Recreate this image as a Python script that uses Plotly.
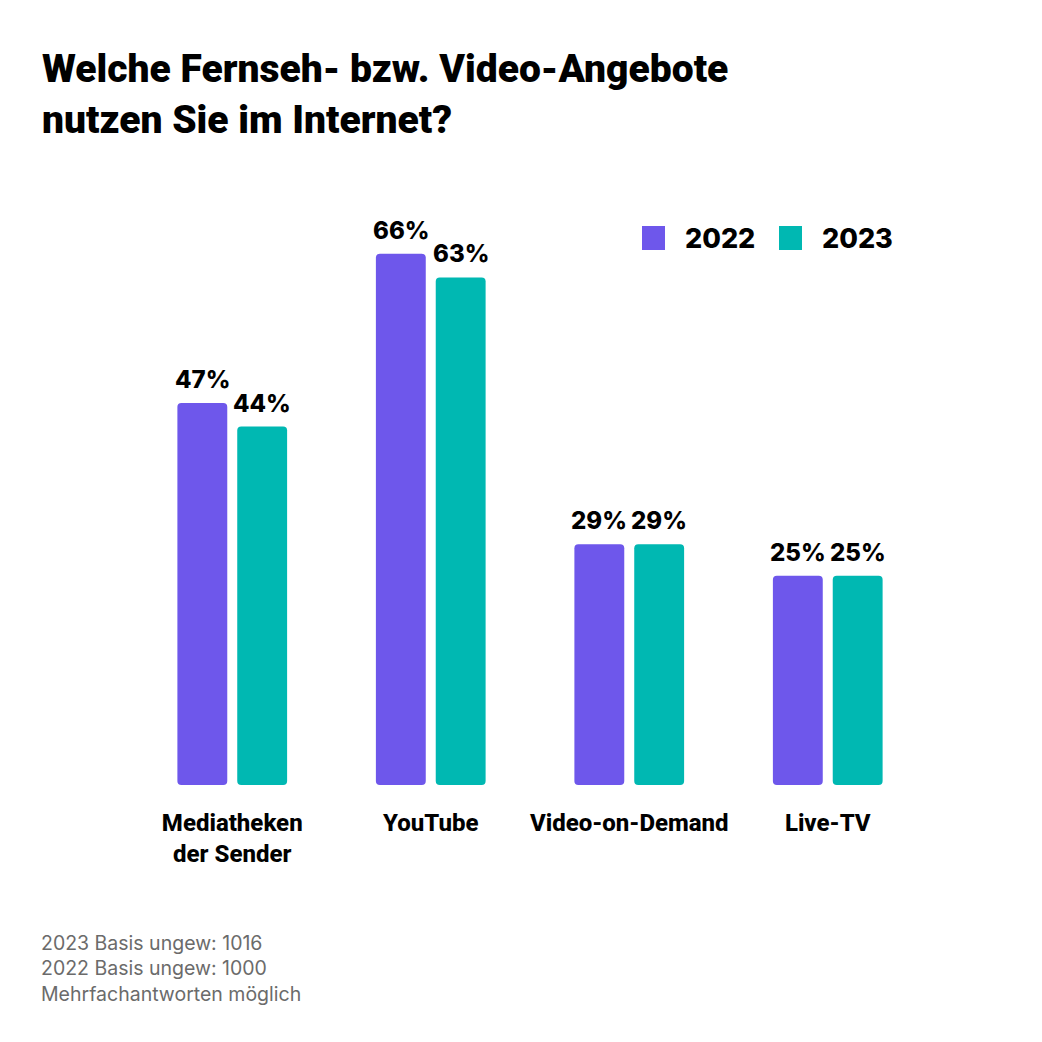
import plotly.graph_objects as go

categories = ["Mediatheken<br>der Sender", "YouTube", "Video-on-Demand", "Live-TV"]
values_2022 = [47, 66, 29, 25]
values_2023 = [44, 63, 29, 25]
series_names = ["2022", "2023"]
footnotes = ["2023 Basis ungew: 1016", "2022 Basis ungew: 1000", "Mehrfachantworten möglich"]
title_text = "Welche Fernseh- bzw. Video-Angebote<br>nutzen Sie im Internet?"

COL_2022 = "#6E57EB"
COL_2023 = "#00B8B2"
AXIS_FLOOR = -1.65
VALUE_FONT = "Inter, Roboto, sans-serif"
LABEL_FONT = "Roboto, Liberation Sans, sans-serif"

fig = go.Figure()
series = [(series_names[0], values_2022, COL_2022, -30), (series_names[1], values_2023, COL_2023, 30)]
for name, vals, col, shift in series:
    fig.add_trace(go.Bar(
        x=categories, y=[v - AXIS_FLOOR for v in vals], base=AXIS_FLOOR,
        name=name, marker=dict(color=col, line=dict(width=0)),
        showlegend=False, hovertemplate="%{x}: " + "%{customdata}%<extra>" + name + "</extra>",
        customdata=vals,
    ))
    for cat, v in zip(categories, vals):
        fig.add_annotation(x=cat, y=v, xshift=shift, yshift=7, yanchor="bottom",
                           text=f"{v}%", showarrow=False,
                           font=dict(family=VALUE_FONT, size=24, color="#000000", weight=800))

fig.update_layout(
    width=1042, height=1042,
    paper_bgcolor="white", plot_bgcolor="white",
    margin=dict(l=133, r=115, t=140, b=257),
    barmode="group", bargap=0.397, bargroupgap=1/6, barcornerradius=4,
    title=dict(text=title_text, x=42/1042, xanchor="left", xref="container",
               y=1 - 82/1042, yanchor="top", yref="container",
               font=dict(family=LABEL_FONT, size=39, color="#000000", weight=900)),
    xaxis=dict(showgrid=False, showline=False, zeroline=False, ticks="",
               tickfont=dict(family=LABEL_FONT, size=24, color="#000000", weight=800),
               ticklabelstandoff=21),
    yaxis=dict(range=[AXIS_FLOOR, 80.5], visible=False, showgrid=False, zeroline=False),
    showlegend=False,
)

# legend built from series names
legend_items = [(series_names[0], COL_2022, 642), (series_names[1], COL_2023, 779)]
for name, col, x0 in legend_items:
    fig.add_shape(type="rect", xref="paper", yref="paper",
                  x0=(x0 - 133) / 794, x1=(x0 + 23 - 133) / 794,
                  y0=(785 - 250) / 645, y1=(785 - 226) / 645,
                  fillcolor=col, line=dict(width=0))
    fig.add_annotation(text=name, xref="paper", yref="paper",
                       x=(x0 + 41 - 133) / 794, y=(785 - 238) / 645,
                       xanchor="left", yanchor="middle", showarrow=False,
                       font=dict(family=VALUE_FONT, size=27, color="#000000", weight=800))

fig.add_annotation(text="<br>".join(footnotes), xref="paper", yref="paper",
                   x=(39 - 133) / 794, y=(785 - 929) / 645, xanchor="left", yanchor="top",
                   align="left", showarrow=False,
                   font=dict(family="Inter, Noto Sans, sans-serif", size=19.5, color="#6b6b6b"))

fig.write_html("out.html", config={"displayModeBar": False},
               post_script="document.body.style.margin='0';")
